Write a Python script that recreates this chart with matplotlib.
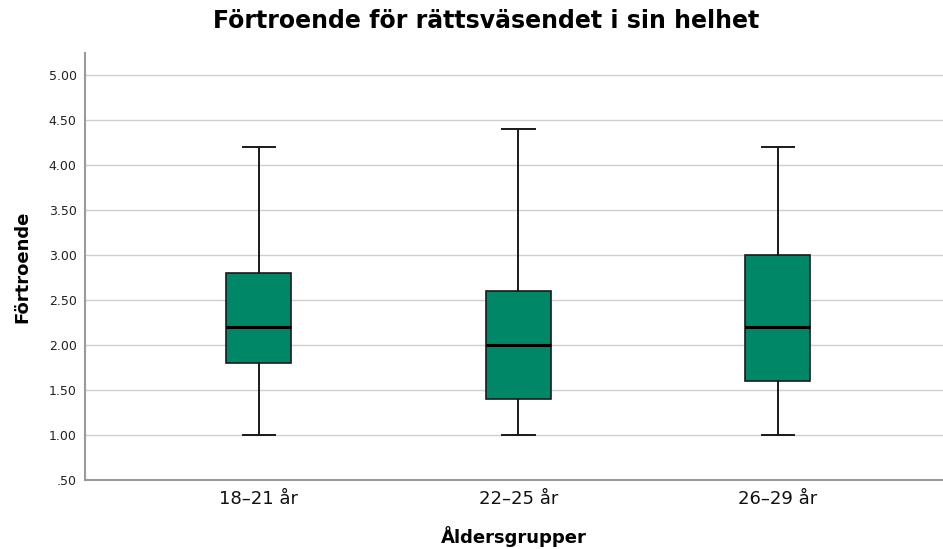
import matplotlib.pyplot as plt
from matplotlib.ticker import FuncFormatter

groups = ["18–21 år", "22–25 år", "26–29 år"]
whislo = [1.0, 1.0, 1.0]
q1 = [1.8, 1.4, 1.6]
med = [2.2, 2.0, 2.2]
q3 = [2.8, 2.6, 3.0]
whishi = [4.2, 4.4, 4.2]

stats = []
for i in range(len(groups)):
    stats.append({"label": groups[i], "whislo": whislo[i], "q1": q1[i],
                  "med": med[i], "q3": q3[i], "whishi": whishi[i], "fliers": []})

fig = plt.figure(figsize=(9.43, 5.49), dpi=100)
ax = fig.add_axes([0.090, 0.126, 0.910, 0.777])

ax.bxp(stats, positions=[1, 2, 3], widths=0.25, patch_artist=True,
       showfliers=False,
       boxprops=dict(facecolor="#008767", edgecolor="#1a1a1a", linewidth=1.2),
       medianprops=dict(color="black", linewidth=2.2),
       whiskerprops=dict(color="#1a1a1a", linewidth=1.4),
       capprops=dict(color="#1a1a1a", linewidth=1.4),
       zorder=3)

ax.set_xlim(0.33, 3.636)
ax.set_ylim(0.5, 5.24)
ax.set_yticks([0.5, 1.0, 1.5, 2.0, 2.5, 3.0, 3.5, 4.0, 4.5, 5.0])
ax.yaxis.set_major_formatter(FuncFormatter(lambda v, p: f"{v:.2f}".lstrip("0")))
ax.grid(axis="y", color="#cfcfcf", linewidth=1.0, zorder=0)
ax.set_axisbelow(True)

for s in ["top", "right"]:
    ax.spines[s].set_visible(False)
for s in ["left", "bottom"]:
    ax.spines[s].set_color("#9a9a9a")
    ax.spines[s].set_linewidth(1.5)

ax.tick_params(axis="y", length=0, labelsize=9, pad=6, labelcolor="#222222")
ax.tick_params(axis="x", length=0, labelsize=13, pad=7, labelcolor="#111111")

fig.suptitle("Förtroende för rättsväsendet i sin helhet", x=0.515, y=0.962,
             fontsize=17, fontweight="bold", va="center")
ax.set_xlabel("Åldersgrupper", fontsize=13, fontweight="bold", labelpad=13)
ax.set_ylabel("Förtroende", fontsize=13, fontweight="bold", labelpad=12)

fig.savefig("out.png", dpi=100)
